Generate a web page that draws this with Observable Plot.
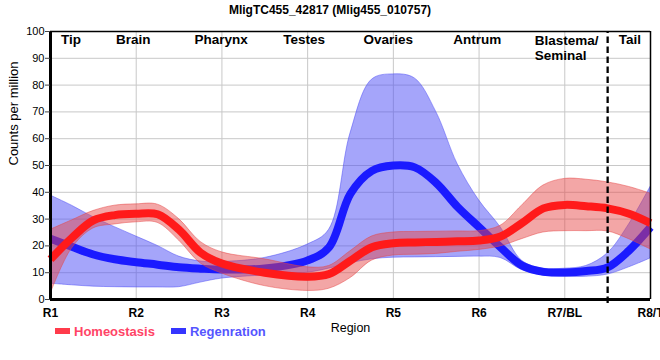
<!DOCTYPE html>
<html><head><meta charset="utf-8">
<script src="https://cdn.jsdelivr.net/npm/d3@7"></script>
<script src="https://cdn.jsdelivr.net/npm/@observablehq/plot@0.6"></script>
<style>
body{margin:0;background:#fff;font-family:"Liberation Sans",Arial,sans-serif;}
#wrap{position:relative;width:660px;height:360px;overflow:hidden;}
#title{height:20px;line-height:20px;text-align:center;font-weight:bold;font-size:12px;color:#000;}
#chart svg{display:block;}
#legend{position:absolute;left:55px;top:322px;height:18px;display:flex;align-items:center;font-size:13px;font-weight:bold;}
.sw{display:inline-block;width:15px;height:6px;margin-right:4px;}
.lt{margin-right:16px;}
</style></head><body>
<div id="wrap"><div id="title">MligTC455_42817 (Mlig455_010757)</div><div id="chart"></div><div id="legend"></div></div>
<script>
// Region positions (0 = R1 ... 7 = R8/T)
const positions = [0,0.25,0.5,0.75,1,1.25,1.5,1.75,2,2.5,3,3.25,3.5,3.75,4,4.25,4.5,4.75,5,5.25,5.5,5.75,6,6.25,6.5,6.75,7];
const homeMean = [15,23,29.5,31.5,32,31.8,26,17.5,13.4,10,8.5,9.5,14.5,19.5,21,21.3,21.5,21.7,22,23.5,28.5,34,35.3,34.8,34,32,28.5];
const homeHigh = [26,29.5,33,35,35.5,35.4,30,21.5,17.6,15,12,12.5,18,23.5,25,25.2,25.3,25.4,25.5,27.5,35,42.5,45,44.7,43.7,42,39.5];
const homeLow  = [2,19,26.5,28,28.8,28.6,22,13.5,9.7,5,3.2,4,8,14.5,16.4,16.7,17,17.8,18.5,19.8,22.5,25,25.5,25.5,25.4,22.5,18.7];
const regenMean = [22.7,19.7,16.8,15,13.9,13,12,11.5,11.2,11.6,14.6,19.5,39.5,48,50,49.3,43.5,34.5,27,19.5,12.7,10.3,10.1,10.6,12,18.3,27];
const regenHigh = [38.8,35,30.7,27,23.5,20,16,14.2,14,15.5,20.5,26,62,82,84,82.5,70,50.5,37,27,14.5,11.5,11.5,12.5,17.2,28,42];
const regenLow  = [5.9,5.3,4.8,4.6,4.5,4.5,4.6,6.3,7.8,9,10,11.5,13.5,15,15.6,15.7,15.8,15.9,16,15.5,11,9,8.5,8.5,9.3,12,15.3];

const xTickPos = [0,1,2,3,4,5,6,7];
const xTickLabels = ["R1","R2","R3","R4","R5","R6","R7/BL","R8/T"];
const yTicks = [0,10,20,30,40,50,60,70,80,90,100];
const regionNames = ["Tip","Brain","Pharynx","Testes","Ovaries","Antrum","Tail"];
const regionX = [0.24,0.965,1.99,2.96,3.94,4.98,6.76];
const blastemaLabel = ["Blastema/\nSeminal"];
const blastemaX = [5.65];
const tailBoundary = [6.5];
const seriesNames = ["Homeostasis","Regenration"];

const data = positions.map((p,i)=>({pos:p, hm:homeMean[i], hh:homeHigh[i], hl:homeLow[i], rm:regenMean[i], rh:regenHigh[i], rl:regenLow[i]}));
const curve = "catmull-rom";
const font = "'Liberation Sans', Arial, sans-serif";

const chart = Plot.plot({
  width: 660, height: 320,
  marginTop: 11, marginBottom: 41, marginLeft: 50, marginRight: 10,
  style: {fontFamily: font, fontSize: "11px", color: "#000", background: "transparent", overflow: "visible"},
  x: {domain: [0,7]},
  y: {domain: [0,100]},
  marks: [
    Plot.gridX(xTickPos, {stroke: "#c8c8c8", strokeOpacity: 1, strokeWidth: 1}),
    Plot.gridY(yTicks, {stroke: "#c8c8c8", strokeOpacity: 1, strokeWidth: 1}),
    Plot.areaY(data, {x: "pos", y1: "rl", y2: "rh", curve, fill: "#4b4bf5", fillOpacity: 0.5, stroke: "#4b4bf5", strokeOpacity: 0.5, strokeWidth: 1}),
    Plot.line(data, {x: "pos", y: "rm", curve, stroke: "#1a1aff", strokeWidth: 8, strokeLinecap: "butt"}),
    Plot.areaY(data, {x: "pos", y1: "hl", y2: "hh", curve, fill: "#e64646", fillOpacity: 0.48, stroke: "#e64646", strokeOpacity: 0.5, strokeWidth: 1}),
    Plot.line(data, {x: "pos", y: "hm", curve, stroke: "#ff1a1a", strokeWidth: 8, strokeLinecap: "butt"}),
    Plot.ruleX(tailBoundary, {stroke: "#000", strokeWidth: 2.3, strokeDasharray: "6.5,3.5", y1: -1.5, y2: 100}),
    Plot.ruleY([100], {stroke: "#000", strokeWidth: 1.5}),
    Plot.ruleX([7], {stroke: "#000", strokeWidth: 1.5}),
    Plot.ruleX([0], {stroke: "#000", strokeWidth: 3}),
    Plot.ruleY([0], {stroke: "#000", strokeWidth: 3}),
    Plot.axisY({ticks: yTicks, tickSize: 5, tickPadding: 1, fontSize: 11, label: null, stroke: "#444"}),
    Plot.axisX({ticks: xTickPos, tickFormat: i => xTickLabels[i], tickSize: 0, tickPadding: 9, fontSize: 12, fontWeight: "bold", label: null}),
    Plot.text(regionNames, {x: regionX, text: d => d, frameAnchor: "top", lineAnchor: "top", dy: 3, fontSize: 13.5, fontWeight: "bold", fill: "#000"}),
    Plot.text(blastemaLabel, {x: blastemaX, text: d => d, frameAnchor: "top", lineAnchor: "top", textAnchor: "start", dy: 3, lineHeight: 1.1, fontSize: 13.5, fontWeight: "bold", fill: "#000"}),
    Plot.text(["Counts per million"], {frameAnchor: "left", rotate: -90, dx: -37, fontSize: 13, fill: "#000"}),
    Plot.text(["Region"], {frameAnchor: "bottom", dy: 32, fontSize: 12.5, fill: "#000"})
  ]
});
document.getElementById("chart").appendChild(chart);

const legendColors = ["#ff3b4b", "#3535ff"];
const legendText = ["#ff4466", "#5555ff"];
const lg = document.getElementById("legend");
seriesNames.forEach((n,i)=>{
  const s = document.createElement("span"); s.className = "sw"; s.style.background = legendColors[i];
  const t = document.createElement("span"); t.className = "lt"; t.textContent = n; t.style.color = legendText[i];
  lg.appendChild(s); lg.appendChild(t);
});
</script>
</body></html>
